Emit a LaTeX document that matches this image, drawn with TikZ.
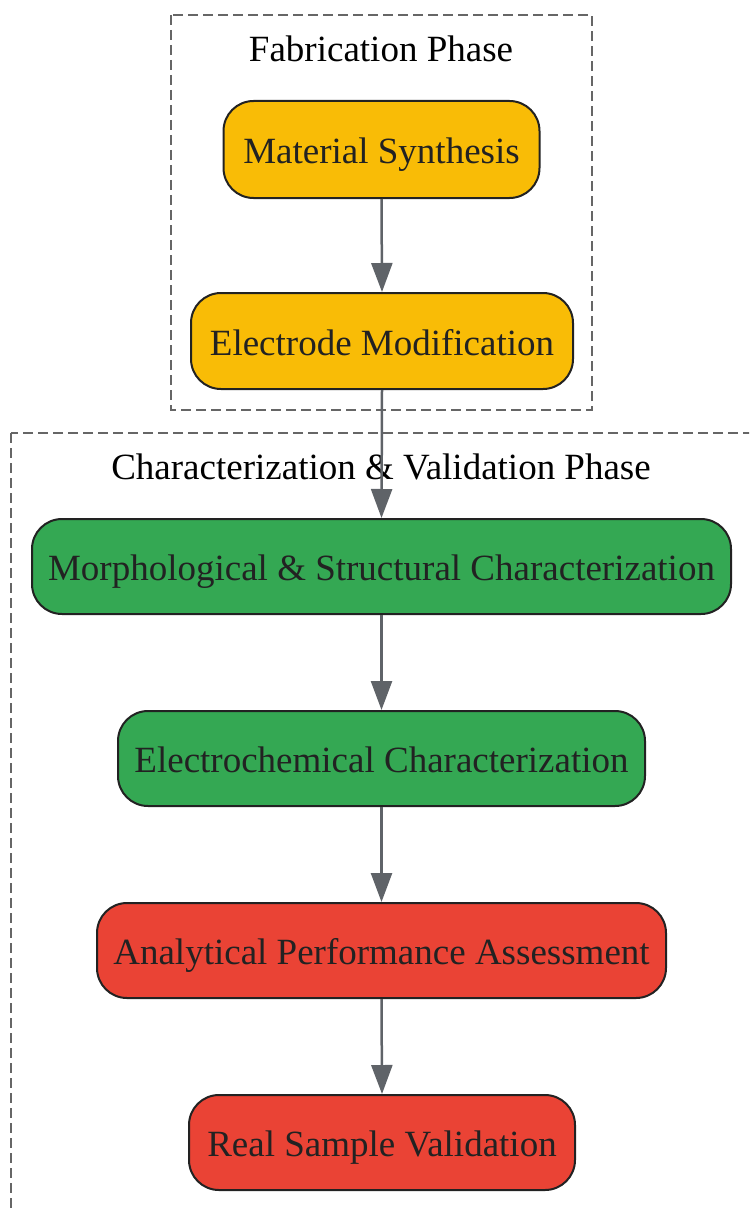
\documentclass[tikz,border=0pt]{standalone}
\usepackage{fontspec}
\setmainfont{Liberation Serif}
\usetikzlibrary{arrows.meta}
\definecolor{cyellow}{HTML}{F9BC06}
\definecolor{cgreen}{HTML}{34A853}
\definecolor{cred}{HTML}{EA4335}
\definecolor{cborder}{HTML}{222222}
\definecolor{ctext}{HTML}{222222}
\definecolor{carrow}{HTML}{5F6368}
\definecolor{ccluster}{HTML}{666666}
\tikzset{
  box/.style={draw=cborder, line width=2pt, rounded corners=30pt, text=ctext,
    font=\fontsize{37}{44}\selectfont, inner sep=0pt, anchor=center,
    text height=30pt, text depth=2pt},
  cluster/.style={draw=ccluster, line width=2.2pt, dash pattern=on 10pt off 5pt},
  ctitle/.style={font=\fontsize{37}{44}\selectfont, text=black, inner sep=0pt, anchor=center},
  flow/.style={draw=carrow, line width=2.5pt, -{Triangle[length=29pt,width=21pt]}}
}
\begin{document}
\begin{tikzpicture}[x=1pt,y=-1pt]
\clip (0,0) rectangle (749,1209);
\draw[cluster] (171,15) rectangle (592,410);
\draw[cluster] (11,433) rectangle (770,1230);
\node[ctitle] (t1) at (381,49) {Fabrication Phase};
\node[ctitle] (t2) at (381,467) {Characterization \& Validation Phase};
\node[box, fill=cyellow, minimum width=316pt, minimum height=97pt] (ms) at (381.5,149.5) {Material Synthesis};
\node[box, fill=cyellow, minimum width=382pt, minimum height=96pt] (em) at (382,341) {Electrode Modification};
\node[box, fill=cgreen, minimum width=699pt, minimum height=95pt] (mc) at (381.5,566.5) {Morphological \& Structural Characterization};
\node[box, fill=cgreen, minimum width=527pt, minimum height=95pt] (ec) at (381.5,758.5) {Electrochemical Characterization};
\node[box, fill=cred, minimum width=569pt, minimum height=95pt] (ap) at (381.5,950.5) {Analytical Performance Assessment};
\node[box, fill=cred, minimum width=386pt, minimum height=95pt] (rs) at (382,1142.5) {Real Sample Validation};
\draw[flow] (ms.south) -- (em.north);
\draw[flow] (em.south) -- (mc.north);
\draw[flow] (mc.south) -- (ec.north);
\draw[flow] (ec.south) -- (ap.north);
\draw[flow] (ap.south) -- (rs.north);
\end{tikzpicture}
\end{document}
